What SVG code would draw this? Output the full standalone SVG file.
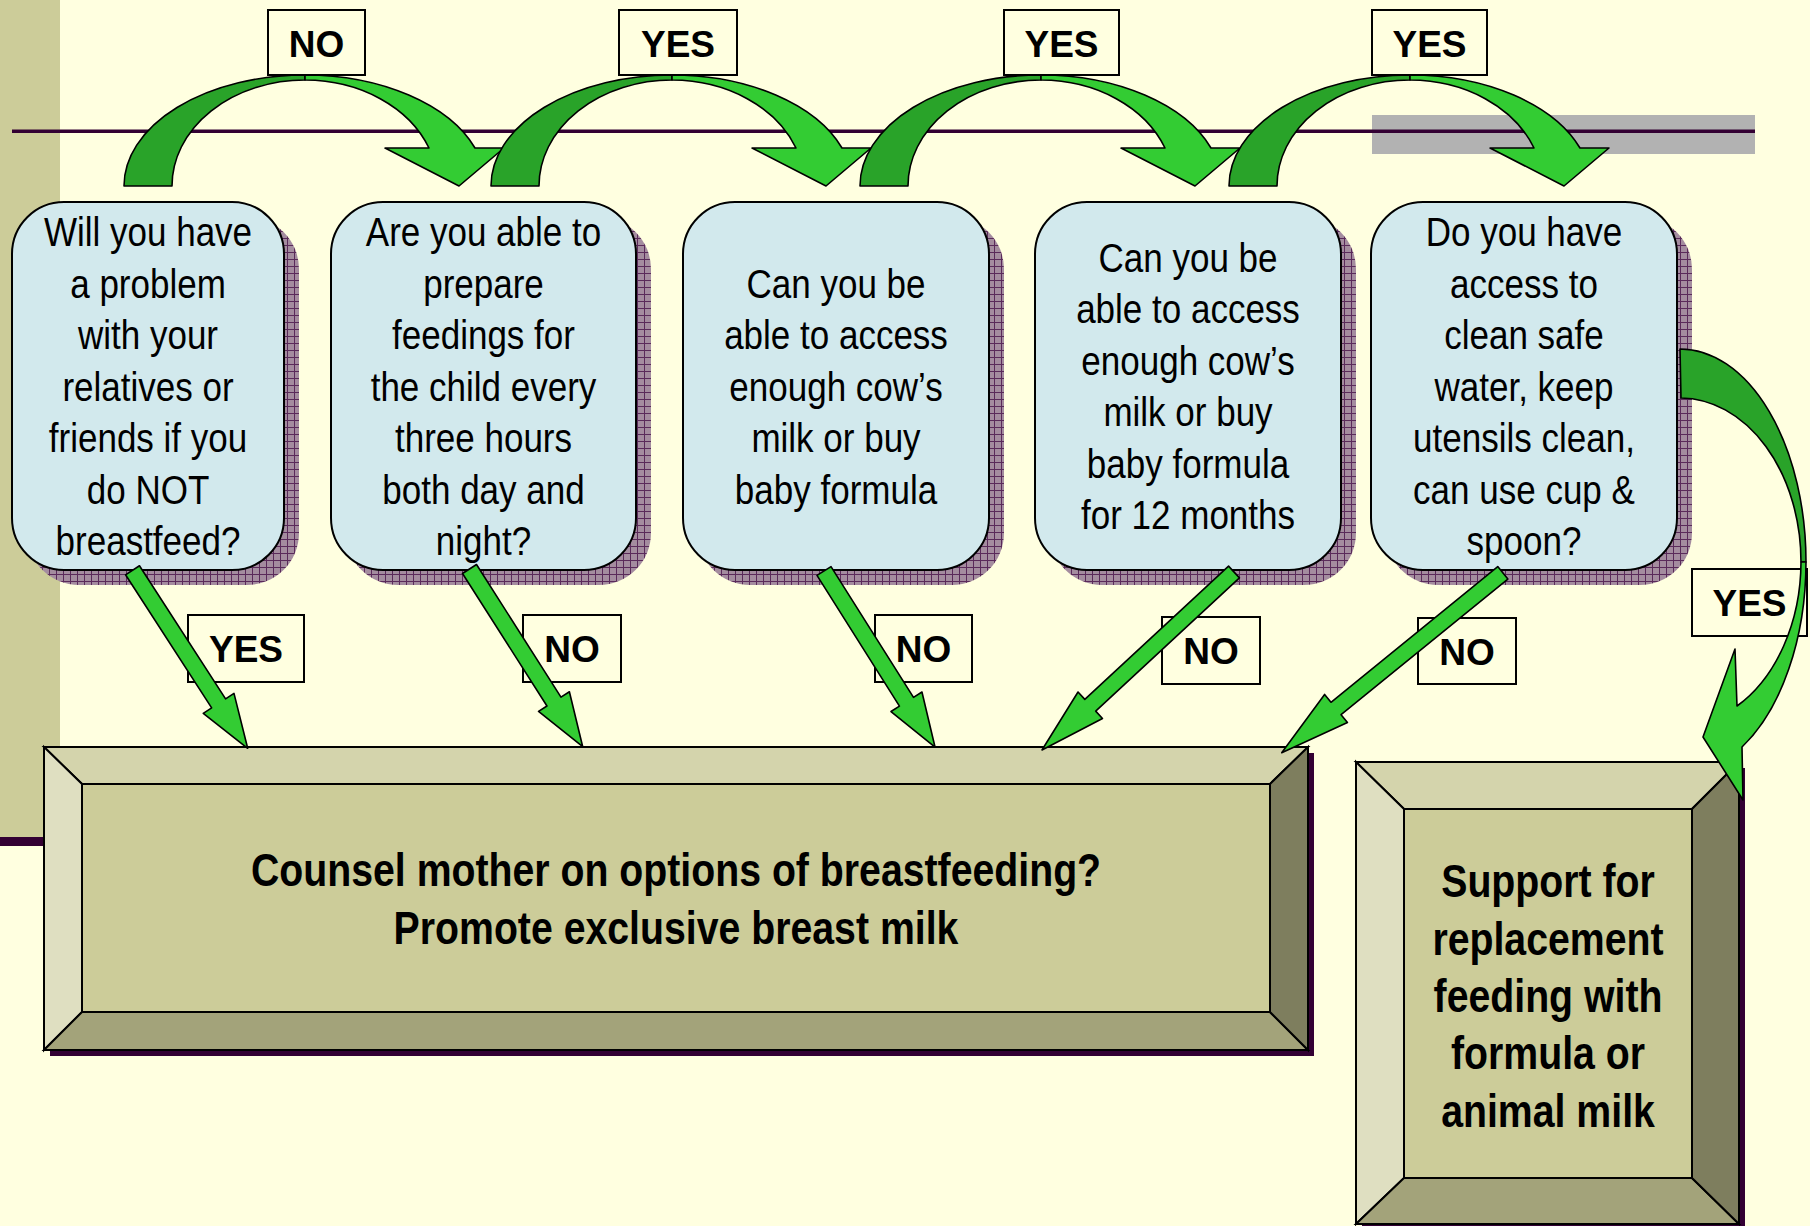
<svg xmlns="http://www.w3.org/2000/svg" width="1810" height="1226" viewBox="0 0 1810 1226">
<style>
.node{fill:#D2E9ED;stroke:#000;stroke-width:2}
.shadow{fill:url(#hatch)}
.ntext{font-family:"Liberation Sans",Arial,sans-serif;font-size:40px;fill:#000;text-anchor:middle}
.lbl{fill:#FFFFE0;stroke:#000;stroke-width:2}
.ltext{font-family:"Liberation Sans",Arial,sans-serif;font-size:37px;font-weight:bold;fill:#000;text-anchor:middle}
.dark{fill:#29A329;stroke:#000;stroke-width:1.6;stroke-linejoin:round}
.light{fill:#33CC33;stroke:#000;stroke-width:1.6;stroke-linejoin:round}
.bv{stroke:#000;stroke-width:2;stroke-linejoin:miter}
.btext{font-family:"Liberation Sans",Arial,sans-serif;font-size:46px;font-weight:bold;fill:#000;text-anchor:middle}
</style>
<defs>
<pattern id="hatch" width="7" height="7" patternUnits="userSpaceOnUse">
<rect width="7" height="7" fill="#A48C9F"/>
<path d="M0,0.5H7M0.5,0V7" stroke="#5A2A5A" stroke-width="1"/>
</pattern>
<g id="curveArrow">
<path class="dark" d="M0,186 A181,111 0 0 1 181,75 L181,80 A133,106 0 0 0 48,186 Z"/>
<path class="light" d="M181,75 A181,111 0 0 1 351,148 L380,148 L335,186 L261,148 L305,148 A133,106 0 0 0 181,80 Z"/>
</g>
</defs>

<rect width="1810" height="1226" fill="#FFFFE0"/>
<rect x="0" y="0" width="60" height="837" fill="#CCCC99"/>
<rect x="0" y="837" width="60" height="9" fill="#330033"/>
<rect x="1372" y="115" width="383" height="39" fill="#B2B2B2"/>
<rect x="12" y="129.5" width="1743" height="3.5" fill="#330033"/>

<g id="node1">
<rect class="shadow" x="27" y="217" width="272" height="368" rx="52"/>
<rect class="node" x="12" y="202" width="272" height="368" rx="52"/>
<text class="ntext" transform="translate(148,0) scale(0.875,1)"><tspan x="0" y="246.5">Will you have</tspan><tspan x="0" y="298">a problem</tspan><tspan x="0" y="349.5">with your</tspan><tspan x="0" y="401">relatives or</tspan><tspan x="0" y="452.5">friends if you</tspan><tspan x="0" y="504">do NOT</tspan><tspan x="0" y="555.5">breastfeed?</tspan></text>
</g>
<g id="node2">
<rect class="shadow" x="346" y="217" width="305" height="368" rx="52"/>
<rect class="node" x="331" y="202" width="305" height="368" rx="52"/>
<text class="ntext" transform="translate(483.5,0) scale(0.875,1)"><tspan x="0" y="246.5">Are you able to</tspan><tspan x="0" y="298">prepare</tspan><tspan x="0" y="349.5">feedings for</tspan><tspan x="0" y="401">the child every</tspan><tspan x="0" y="452.5">three hours</tspan><tspan x="0" y="504">both day and</tspan><tspan x="0" y="555.5">night?</tspan></text>
</g>
<g id="node3">
<rect class="shadow" x="698" y="217" width="306" height="368" rx="52"/>
<rect class="node" x="683" y="202" width="306" height="368" rx="52"/>
<text class="ntext" transform="translate(836,0) scale(0.875,1)"><tspan x="0" y="298">Can you be</tspan><tspan x="0" y="349.5">able to access</tspan><tspan x="0" y="401">enough cow’s</tspan><tspan x="0" y="452.5">milk or buy</tspan><tspan x="0" y="504">baby formula</tspan></text>
</g>
<g id="node4">
<rect class="shadow" x="1050" y="217" width="306" height="368" rx="52"/>
<rect class="node" x="1035" y="202" width="306" height="368" rx="52"/>
<text class="ntext" transform="translate(1188,0) scale(0.875,1)"><tspan x="0" y="272">Can you be</tspan><tspan x="0" y="323.5">able to access</tspan><tspan x="0" y="375">enough cow’s</tspan><tspan x="0" y="426.5">milk or buy</tspan><tspan x="0" y="478">baby formula</tspan><tspan x="0" y="529.5">for 12 months</tspan></text>
</g>
<g id="node5">
<rect class="shadow" x="1386" y="217" width="306" height="368" rx="52"/>
<rect class="node" x="1371" y="202" width="306" height="368" rx="52"/>
<text class="ntext" transform="translate(1524,0) scale(0.875,1)"><tspan x="0" y="246.5">Do you have</tspan><tspan x="0" y="298">access to</tspan><tspan x="0" y="349.5">clean safe</tspan><tspan x="0" y="401">water, keep</tspan><tspan x="0" y="452.5">utensils clean,</tspan><tspan x="0" y="504">can use cup &amp;</tspan><tspan x="0" y="555.5">spoon?</tspan></text>
</g>

<g id="counsel">
<rect x="50" y="753" width="1264" height="303" fill="#330033"/>
<rect x="82" y="784" width="1188" height="228" fill="#CCCC99" class="bv"/>
<polygon class="bv" points="44,747 1308,747 1270,784 82,784" fill="#D4D4AC"/>
<polygon class="bv" points="44,747 82,784 82,1012 44,1050" fill="#DFDFC1"/>
<polygon class="bv" points="44,1050 82,1012 1270,1012 1308,1050" fill="#A3A37A"/>
<polygon class="bv" points="1308,747 1308,1050 1270,1012 1270,784" fill="#7E7E5E"/>
<g transform="translate(676,0) scale(0.853,1)">
<text class="btext" x="0" y="886">Counsel mother on options of breastfeeding?</text>
<text class="btext" x="0" y="944">Promote exclusive breast milk</text>
</g>
</g>

<g id="support">
<rect x="1362" y="768" width="383" height="462" fill="#330033"/>
<rect x="1404" y="809" width="288" height="369" fill="#CCCC99" class="bv"/>
<polygon class="bv" points="1356,762 1739,762 1692,809 1404,809" fill="#D4D4AC"/>
<polygon class="bv" points="1356,762 1404,809 1404,1178 1356,1224" fill="#DFDFC1"/>
<polygon class="bv" points="1356,1224 1404,1178 1692,1178 1739,1224" fill="#A3A37A"/>
<polygon class="bv" points="1739,762 1739,1224 1692,1178 1692,809" fill="#7E7E5E"/>
<g transform="translate(1548,0) scale(0.853,1)">
<text class="btext" x="0" y="897">Support for</text>
<text class="btext" x="0" y="955">replacement</text>
<text class="btext" x="0" y="1012">feeding with</text>
<text class="btext" x="0" y="1069.5">formula or</text>
<text class="btext" x="0" y="1127">animal milk</text>
</g>
</g>

<g id="connectors">
<use href="#curveArrow" x="124" y="0"/>
<use href="#curveArrow" x="491" y="0"/>
<use href="#curveArrow" x="860" y="0"/>
<use href="#curveArrow" x="1229" y="0"/>

<g id="topLabels">
<rect class="lbl" x="268" y="10" width="97" height="65"/>
<text class="ltext" x="316.5" y="56.5">NO</text>
<rect class="lbl" x="619" y="10" width="118" height="65"/>
<text class="ltext" x="678" y="56.5">YES</text>
<rect class="lbl" x="1004" y="10" width="115" height="65"/>
<text class="ltext" x="1061.5" y="56.5">YES</text>
<rect class="lbl" x="1372" y="10" width="115" height="65"/>
<text class="ltext" x="1429.5" y="56.5">YES</text>
</g>

<g id="bottomLabels">
<rect class="lbl" x="188" y="615" width="116" height="67"/>
<text class="ltext" x="246" y="662">YES</text>
<rect class="lbl" x="523" y="615" width="98" height="67"/>
<text class="ltext" x="572" y="662">NO</text>
<rect class="lbl" x="875" y="615" width="97" height="67"/>
<text class="ltext" x="923.5" y="662">NO</text>
<rect class="lbl" x="1162" y="617" width="98" height="67"/>
<text class="ltext" x="1211" y="664">NO</text>
<rect class="lbl" x="1418" y="618" width="98" height="66"/>
<text class="ltext" x="1467" y="664.5">NO</text>
<rect class="lbl" x="1692" y="569" width="115" height="67"/>
<text class="ltext" x="1749.5" y="616">YES</text>
</g>

<path class="light" transform="translate(132.5,570.3) rotate(57.09)" d="M0,-8.3 L158.5,-8.3 L158.5,-18.3 L212,0 L158.5,18.3 L158.5,8.3 L0,8.3 Z"/>
<path class="light" transform="translate(469.5,569) rotate(57.5)" d="M0,-8.3 L157.2,-8.3 L157.2,-18.3 L210.7,0 L157.2,18.3 L157.2,8.3 L0,8.3 Z"/>
<path class="light" transform="translate(824,571) rotate(57.76)" d="M0,-8.3 L154.6,-8.3 L154.6,-18.3 L208.1,0 L154.6,18.3 L154.6,8.3 L0,8.3 Z"/>
<path class="light" transform="translate(1234,572) rotate(137.17)" d="M0,-8 L196,-8 L196,-18 L261.8,0 L196,18 L196,8 L0,8 Z"/>
<path class="light" transform="translate(1502.8,572.8) rotate(140.87)" d="M0,-8 L215,-8 L215,-18.1 L285,0 L215,18.1 L215,8 L0,8 Z"/>

<path class="dark" d="M1680,349 A126,213 0 0 1 1806,562 L1801,562 A121,164 0 0 0 1681,398 Z"/>
<path class="light" d="M1806,562 A126,213 0 0 1 1742,747 L1743,800 L1703,737 L1735,649 L1737,706 A121,164 0 0 0 1801,562 Z"/>
</g>
</svg>
